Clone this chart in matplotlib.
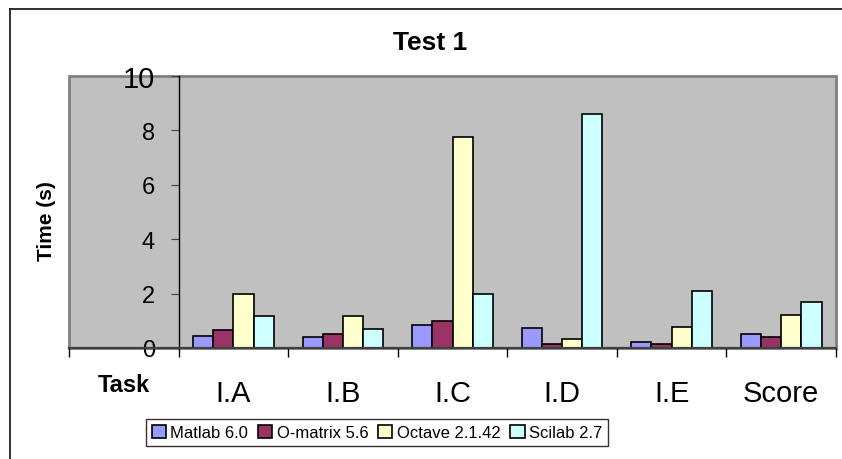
import numpy as np
import matplotlib
matplotlib.use('Agg')
import matplotlib.pyplot as plt
from matplotlib.lines import Line2D
from matplotlib.patches import Rectangle

plt.rcParams['font.family'] = ['Liberation Sans', 'DejaVu Sans']

# Datos
categories = ['Task', 'I.A', 'I.B', 'I.C', 'I.D', 'I.E', 'Score']
series = ['Matlab 6.0', 'O-matrix 5.6', 'Octave 2.1.42', 'Scilab 2.7']
matlab = [0.45, 0.40, 0.86, 0.72, 0.23, 0.53]
omatrix = [0.66, 0.50, 0.98, 0.14, 0.15, 0.40]
octave = [2.00, 1.19, 7.77, 0.33, 0.77, 1.22]
scilab = [1.17, 0.69, 2.00, 8.59, 2.10, 1.70]
yticks = [0, 2, 4, 6, 8, 10]

colors = ['#9999FF', '#993366', '#FFFFCC', '#CCFFFF']

W, H = 842, 460
fig = plt.figure(figsize=(W/100, H/100), dpi=100)
ax = fig.add_axes([69/W, 1-349/H, (836-69)/W, (349-77)/H])
ax.set_facecolor('#C0C0C0')

x = np.arange(1, len(categories))
w = 0.184
for k, (vals, name, c) in enumerate(zip([matlab, omatrix, octave, scilab], series, colors)):
    ax.bar(x + (k-1.5)*w, vals, w, color=c, edgecolor='black',
           linewidth=1.2, label=name, zorder=3)

ax.set_xlim(-0.5, len(categories)-0.5)
ax.set_ylim(0, 10)

# marco gris del area de trazado
ax.add_patch(Rectangle((0, 0), 1, 1, transform=ax.transAxes, fill=False,
                       edgecolor='#808080', lw=2, clip_on=False, zorder=1))
ax.spines['top'].set_visible(False)
ax.spines['right'].set_visible(False)
ax.spines['left'].set_position(('data', 0.5))
ax.spines['left'].set_color('black')
ax.spines['left'].set_linewidth(1.0)
ax.spines['bottom'].set_color('#404040')
ax.spines['bottom'].set_linewidth(1.6)
ax.spines['bottom'].set_zorder(4)

ax.set_yticks(yticks, labels=[str(v) for v in yticks])
ax.tick_params(axis='y', length=6, color='#404040', labelsize=17, pad=11)
ax.get_yticklabels()[-1].set_fontsize(21)

ax.set_xticks(np.arange(len(categories)), labels=categories)
ax.set_xticks(np.arange(-0.5, len(categories)), minor=True)
ax.tick_params(axis='x', which='major', length=0, labelsize=21, pad=22)
ax.tick_params(axis='x', which='minor', length=6.5, color='black', width=1)
t0 = ax.get_xticklabels()[0]
t0.set_fontweight('bold')
t0.set_fontsize(17)
t0.set_y(0.02)

fig.text(430/W, 1-43/H, 'Test 1', fontsize=19, fontweight='bold',
         ha='center', va='center')
fig.text(46/W, 1-221/H, 'Time (s)', fontsize=15, fontweight='bold',
         rotation=90, ha='center', va='center')

leg = fig.legend(loc='center', bbox_to_anchor=(377/W, 1-433.5/H), ncol=4,
                 fontsize=12, frameon=True, fancybox=False, edgecolor='black',
                 handlelength=0.85, handleheight=0.85, handletextpad=0.25,
                 columnspacing=0.6, borderpad=0.35, borderaxespad=0)
leg.get_frame().set_linewidth(1.0)

# borde exterior del grafico (solo izquierda y arriba visibles)
fig.add_artist(Line2D([10/W, 10/W], [0, 1-10/H], color='#202020', lw=1.3,
                      transform=fig.transFigure))
fig.add_artist(Line2D([10/W, 1], [1-10/H, 1-10/H], color='#202020', lw=1.3,
                      transform=fig.transFigure))

fig.savefig('out.png', dpi=100)
